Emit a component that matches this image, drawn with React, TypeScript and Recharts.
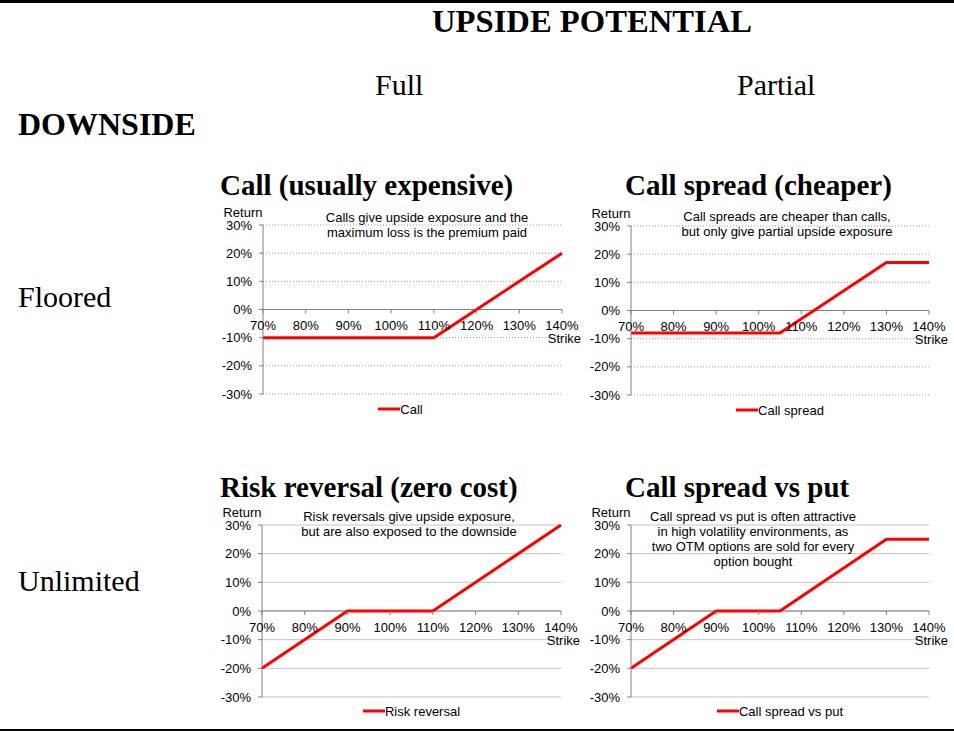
import { LineChart, Line, XAxis, YAxis, CartesianGrid, ReferenceLine, Legend } from 'recharts';

const SANS = '"Liberation Sans", Arial, sans-serif';
const SERIF = '"Liberation Serif", "Times New Roman", serif';
const FS = 13;

const strikeTicks = [70, 80, 90, 100, 110, 120, 130, 140];
const returnTicks = [-30, -20, -10, 0, 10, 20, 30];

// payoff breakpoints (strike %, return %)
const callStrike = [70, 110, 140];
const callReturn = [-10, -10, 20];
const spreadStrike = [70, 105, 130, 140];
const spreadReturn = [-8, -8, 17, 17];
const rrStrike = [70, 90, 110, 140];
const rrReturn = [-20, 0, 0, 30];
const cspStrike = [70, 90, 105, 130, 140];
const cspReturn = [-20, 0, 0, 25, 25];

const MARGIN = { top: 25, right: 20, bottom: 4, left: 10 };

type PanelProps = {
  left: number;
  top: number;
  width: number;
  height: number;
  axisH: number;
  strike: number[];
  ret: number[];
  name: string;
  note: string[];
  noteX: number;
  noteTop: number;
  dotted: boolean;
  legendDx?: number;
};

function StrikeTick(props: any) {
  const { x, payload, zeroY } = props;
  return (
    <g>
      <line x1={x} x2={x} y1={zeroY} y2={zeroY + 4} stroke="#808080" />
      <text x={x} y={zeroY + 20.5} textAnchor="middle" fontSize={FS} fill="#000" fontFamily={SANS}>
        {payload.value}%
      </text>
      {payload.value === 140 && (
        <text x={x + 19} y={zeroY + 33.5} textAnchor="end" fontSize={FS} fill="#000" fontFamily={SANS}>
          Strike
        </text>
      )}
    </g>
  );
}

function Panel({ left, top, width, height, axisH, strike, ret, name, note, noteX, noteTop, dotted, legendDx = 0 }: PanelProps) {
  const data = strike.map((s, i) => ({ strike: s, value: ret[i] }));
  const plotH = height - MARGIN.top - MARGIN.bottom - 20 - axisH;
  const zeroY = MARGIN.top + plotH / 2;
  return (
    <div style={{ position: 'absolute', left, top, width, height }}>
      <LineChart width={width} height={height} data={data} margin={MARGIN}>
        <CartesianGrid
          vertical={false}
          stroke={dotted ? '#9a9a9a' : '#c4c4c4'}
          strokeDasharray={dotted ? '1 2' : undefined}
        />
        <XAxis
          dataKey="strike"
          type="number"
          domain={[70, 140]}
          ticks={strikeTicks}
          interval={0}
          axisLine={false}
          tickLine={false}
          height={axisH}
          tick={(p: any) => <StrikeTick {...p} zeroY={zeroY} />}
        />
        <YAxis
          type="number"
          domain={[-30, 30]}
          ticks={returnTicks}
          interval={0}
          width={40}
          tickFormatter={(v: number) => `${v}%`}
          axisLine={{ stroke: '#808080' }}
          tickLine={{ stroke: '#808080' }}
          tickSize={4}
          tickMargin={7}
          tick={{ fill: '#000', fontSize: FS, fontFamily: SANS }}
          label={{ value: 'Return', position: 'top', offset: 8, fill: '#000', fontSize: FS, fontFamily: SANS }}
        />
        <ReferenceLine y={0} stroke="#808080" />
        <Legend
          verticalAlign="bottom"
          content={(lp: any) => (
            <div
              style={{
                height: 20,
                paddingLeft: 40 + legendDx,
                display: 'flex',
                justifyContent: 'center',
                alignItems: 'center',
                fontSize: FS,
                fontFamily: SANS,
              }}
            >
              {(lp.payload || []).map((entry: any) => (
                <span key={entry.value} style={{ display: 'flex', alignItems: 'center' }}>
                  <svg width={22} height={4}>
                    <line x1={0} x2={22} y1={2} y2={2} stroke={entry.color} strokeWidth={3} />
                  </svg>
                  <span style={{ color: '#000' }}>{entry.value}</span>
                </span>
              ))}
            </div>
          )}
        />
        <Line
          type="linear"
          dataKey="value"
          name={name}
          stroke="#ff0000"
          strokeWidth={3}
          dot={false}
          isAnimationActive={false}
        />
      </LineChart>
      <div
        style={{
          position: 'absolute',
          left: noteX - 150,
          width: 300,
          top: noteTop,
          textAlign: 'center',
          fontSize: FS,
          lineHeight: '15.3px',
          fontFamily: SANS,
          color: '#000',
          pointerEvents: 'none',
        }}
      >
        {note.map((l) => (
          <div key={l}>{l}</div>
        ))}
      </div>
    </div>
  );
}

export default function App() {
  return (
    <div style={{ position: 'absolute', left: 0, top: 0, width: 954, height: 731, background: '#fff' }}>
      <svg width={954} height={731} style={{ position: 'absolute', left: 0, top: 0 }}>
        <rect x={0} y={0} width={954} height={3} fill="#000" />
        <rect x={0} y={729} width={954} height={2} fill="#000" />
        <g fontFamily={SERIF} fill="#000">
          <text x={432} y={32} fontSize={32} fontWeight="bold" textLength={320} lengthAdjust="spacingAndGlyphs">UPSIDE POTENTIAL</text>
          <text x={375} y={95} fontSize={30}>Full</text>
          <text x={737} y={95} fontSize={30}>Partial</text>
          <text x={18} y={135} fontSize={32} fontWeight="bold">DOWNSIDE</text>
          <text x={220} y={195} fontSize={29} fontWeight="bold">Call (usually expensive)</text>
          <text x={625} y={195} fontSize={29} fontWeight="bold">Call spread (cheaper)</text>
          <text x={18} y={307} fontSize={30}>Floored</text>
          <text x={220} y={497} fontSize={29} fontWeight="bold">Risk reversal (zero cost)</text>
          <text x={625} y={497} fontSize={29} fontWeight="bold">Call spread vs put</text>
          <text x={18} y={591} fontSize={30}>Unlimited</text>
        </g>
      </svg>
      <Panel
        left={213}
        top={200}
        width={369}
        height={223}
        axisH={5}
        strike={callStrike}
        ret={callReturn}
        name="Call"
        note={['Calls give upside exposure and the', 'maximum loss is the premium paid']}
        noteX={214}
        noteTop={9.5}
        dotted
        legendDx={-24}
      />
      <Panel
        left={581}
        top={201}
        width={368}
        height={223}
        axisH={5}
        strike={spreadStrike}
        ret={spreadReturn}
        name="Call spread"
        note={['Call spreads are cheaper than calls,', 'but only give partial upside exposure']}
        noteX={206}
        noteTop={7.5}
        dotted
      />
      <Panel
        left={212}
        top={500}
        width={369}
        height={225}
        axisH={4}
        strike={rrStrike}
        ret={rrReturn}
        name="Risk reversal"
        note={['Risk reversals give upside exposure,', 'but are also exposed to the downside']}
        noteX={197}
        noteTop={8.5}
        dotted={false}
      />
      <Panel
        left={581}
        top={500}
        width={368}
        height={225}
        axisH={4}
        strike={cspStrike}
        ret={cspReturn}
        name="Call spread vs put"
        note={[
          'Call spread vs put is often attractive',
          'in high volatility environments, as',
          'two OTM options are sold for every',
          'option bought',
        ]}
        noteX={172}
        noteTop={8.5}
        dotted={false}
      />
    </div>
  );
}
